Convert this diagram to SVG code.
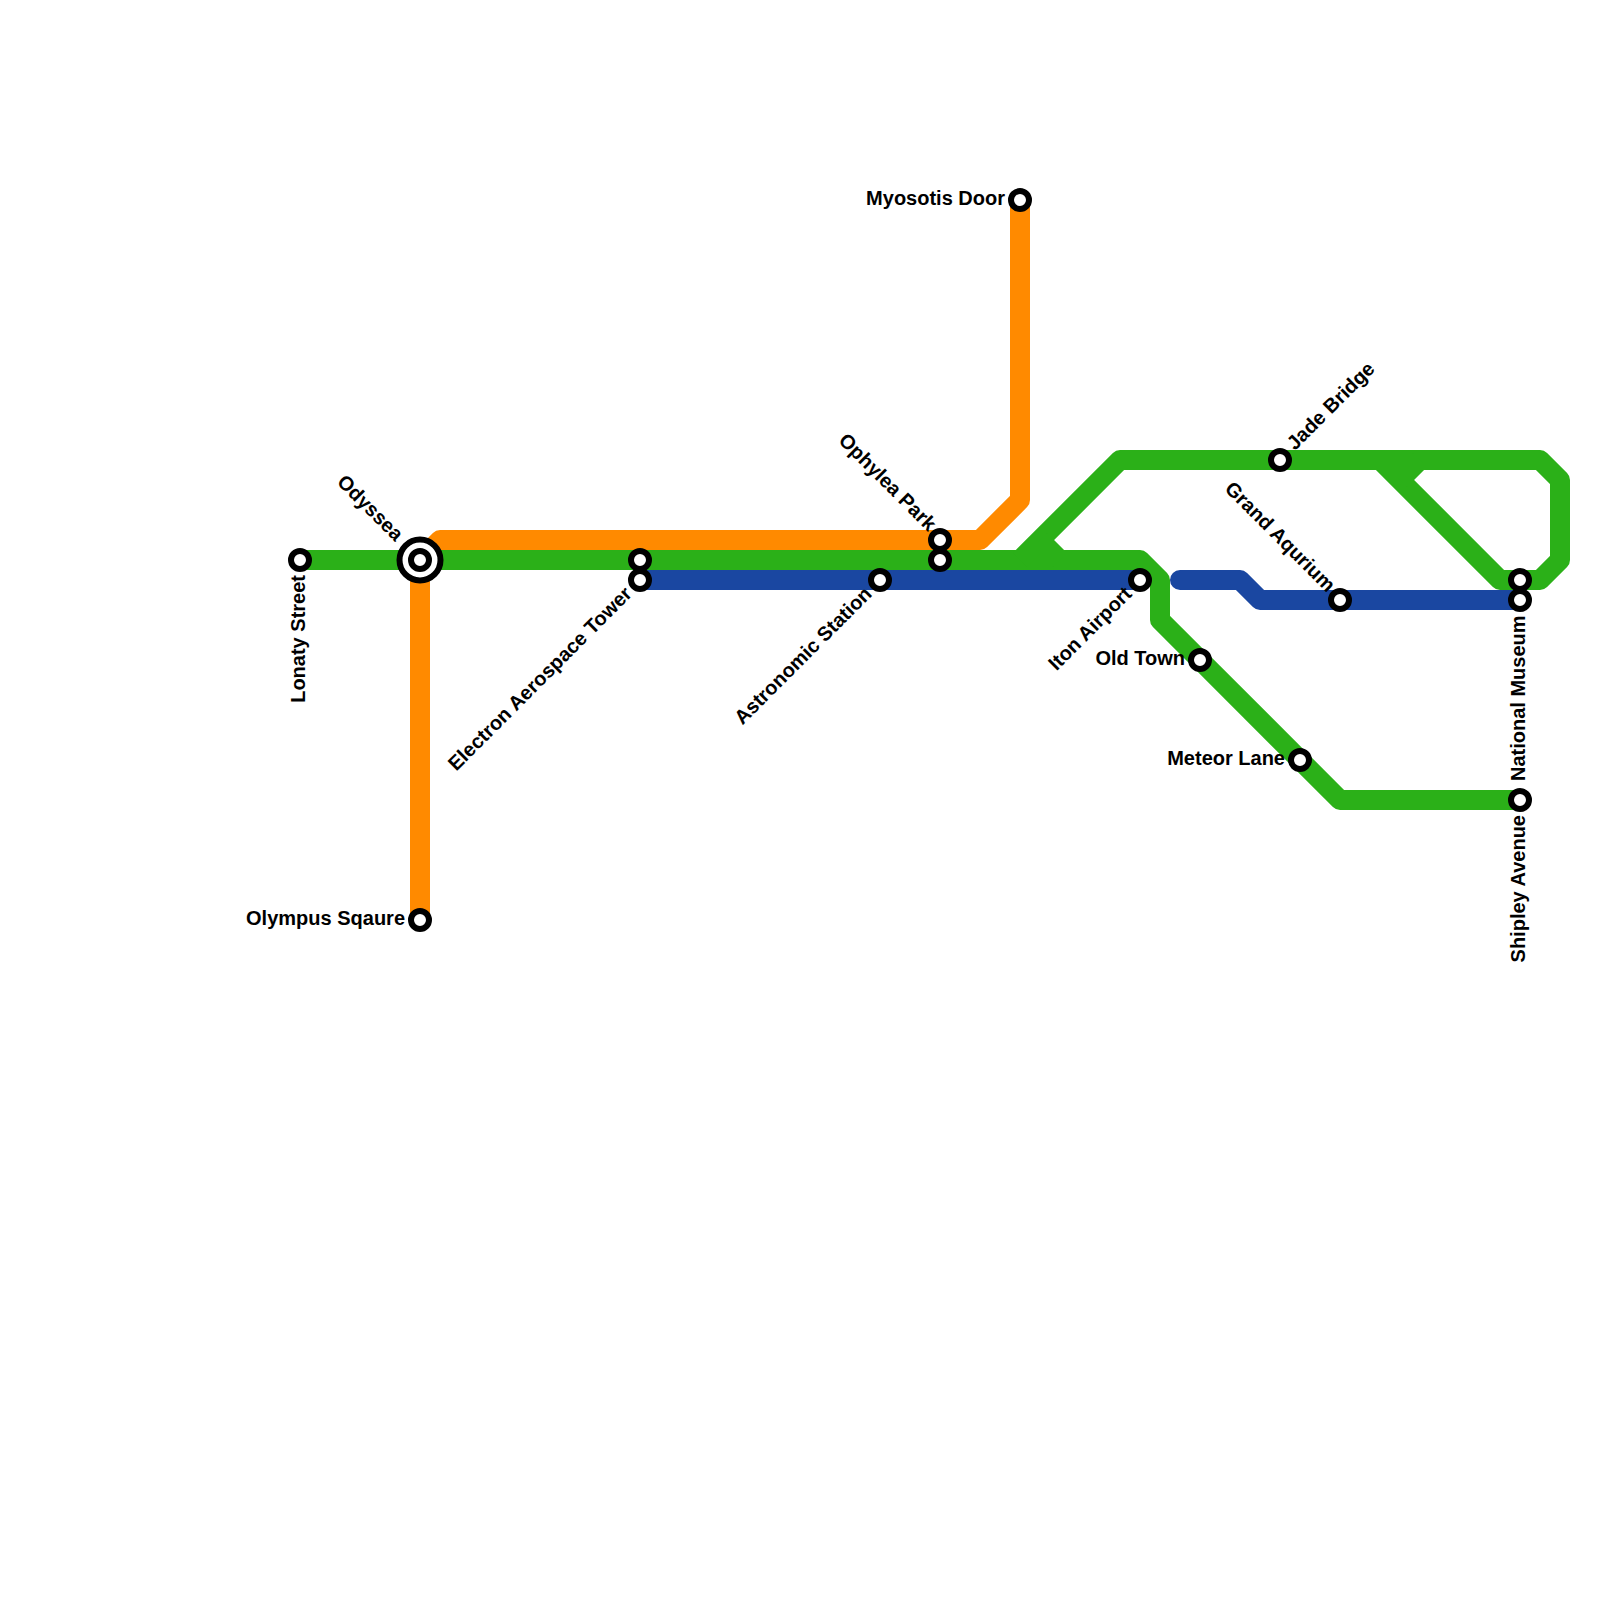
<svg xmlns="http://www.w3.org/2000/svg" width="1600" height="1600" viewBox="0 0 1600 1600">
<style>
.l{fill:none;stroke-width:20;stroke-linejoin:round}
.g{stroke:#2bb018}.o{stroke:#ff8a00}.b{stroke:#1a47a1}
.s{fill:#fff;stroke:#000;stroke-width:6}
text{font-family:"Liberation Sans",Arial,sans-serif;font-weight:700;font-size:20px;fill:#000}
.e{text-anchor:end}
</style>
<rect width="1600" height="1600" fill="#fff"/>
<g id="connectors">
<path class="l o" d="M420 920V560L440 540H980L1020 500V200"/>
<path class="l b" d="M640 580H1140"/>
<path class="l b" d="M1180 580H1240L1260 600H1520" style="stroke-linecap:round"/>
<path class="l g" d="M300 560H1140L1160 580V620L1340 800H1520"/>
<path class="l g" d="M1020 560L1120 460H1540L1560 480V560L1540 580H1500L1380 460"/>
<path class="l g" d="M1040 540L1060 560"/>
<path class="l g" d="M1420 460L1400 480"/>
</g>
<g id="lonaty-street"><circle class="s" cx="300" cy="560" r="9"/><text class="e" transform="translate(305 575) rotate(-90)">Lonaty Street</text></g>
<g id="odyssea"><circle class="s" cx="420" cy="560" r="20.5"/><circle class="s" cx="420" cy="560" r="9"/><text class="e" transform="translate(395 542) rotate(45)">Odyssea</text></g>
<g id="olympus-sqaure"><circle class="s" cx="420" cy="920" r="9"/><text class="e" x="405" y="925">Olympus Sqaure</text></g>
<g id="electron-aerospace-tower"><circle class="s" cx="640" cy="580" r="9"/><text class="e" transform="translate(633 595) rotate(-45)">Electron Aerospace Tower</text></g>
<g id="electron-upper"><circle class="s" cx="640" cy="560" r="9"/></g>
<g id="astronomic-station"><circle class="s" cx="880" cy="580" r="9"/><text class="e" transform="translate(873 595) rotate(-45)">Astronomic Station</text></g>
<g id="ophylea-park"><circle class="s" cx="940" cy="540" r="9"/><text class="e" transform="translate(928 532) rotate(45)">Ophylea Park</text></g>
<g id="ophylea-lower"><circle class="s" cx="940" cy="560" r="9"/></g>
<g id="myosotis-door"><circle class="s" cx="1020" cy="200" r="9"/><text class="e" x="1005" y="205">Myosotis Door</text></g>
<g id="iton-airport"><circle class="s" cx="1140" cy="580" r="9"/><text class="e" transform="translate(1133 595) rotate(-45)">Iton Airport</text></g>
<g id="old-town"><circle class="s" cx="1200" cy="660" r="9"/><text class="e" x="1185" y="665">Old Town</text></g>
<g id="meteor-lane"><circle class="s" cx="1300" cy="760" r="9"/><text class="e" x="1285" y="765">Meteor Lane</text></g>
<g id="jade-bridge"><circle class="s" cx="1280" cy="460" r="9"/><text transform="translate(1295 451) rotate(-45)">Jade Bridge</text></g>
<g id="grand-aqurium"><circle class="s" cx="1340" cy="600" r="9"/><text class="e" transform="translate(1327 593) rotate(45)">Grand Aqurium</text></g>
<g id="national-upper"><circle class="s" cx="1520" cy="580" r="9"/></g>
<g id="national-museum"><circle class="s" cx="1520" cy="600" r="9"/><text class="e" transform="translate(1525 615) rotate(-90)" dx="0" style="text-anchor:start" x="-166">National Museum</text></g>
<g id="shipley-avenue"><circle class="s" cx="1520" cy="800" r="9"/><text class="e" transform="translate(1525 815) rotate(-90)">Shipley Avenue</text></g>
</svg>
